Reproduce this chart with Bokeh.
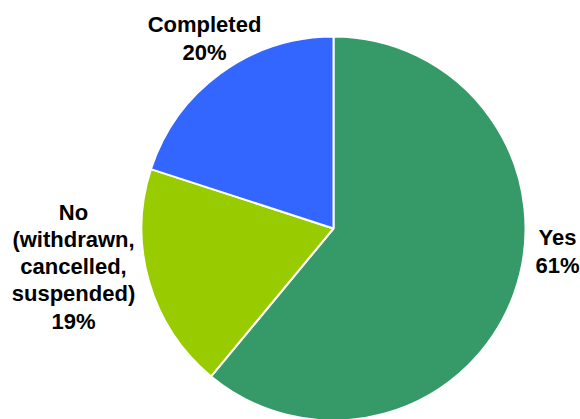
import math
from bokeh.plotting import figure
from bokeh.models import Range1d, ColumnDataSource
from bokeh.core.properties import value
from bokeh.embed import file_html
from bokeh.resources import INLINE

# Data
categories = ["Yes", "No\n(withdrawn,\ncancelled,\nsuspended)", "Completed"]
percent = [61, 19, 20]
colors = ["#359A68", "#99CC00", "#3366FF"]

W, H = 580, 419
cx, cy, r = 333, H - 228, 192

total = sum(percent)
starts, ends = [], []
cum = 0.0
for v in percent:
    a0 = math.pi / 2 - 2 * math.pi * (cum + v) / total
    a1 = math.pi / 2 - 2 * math.pi * cum / total
    starts.append(a0)
    ends.append(a1)
    cum += v

src = ColumnDataSource(dict(start=starts, end=ends, color=colors))

p = figure(width=W, height=H, output_backend="svg", toolbar_location=None,
           x_range=Range1d(0, W), y_range=Range1d(0, H), min_border=0)
p.axis.visible = False
p.grid.visible = False
p.outline_line_color = None
p.background_fill_color = "white"

p.wedge(x=cx, y=cy, radius=r, start_angle="start", end_angle="end",
        fill_color="color", line_color="white", line_width=2, source=src)

# label positions (screen px centers)
lab_pos = [(557, 251), (73, 266), (204, 38)]
texts = [f"{c}\n{v}%" for c, v in zip(categories, percent)]
lsrc = ColumnDataSource(dict(x=[q[0] for q in lab_pos], y=[H - q[1] for q in lab_pos], t=texts))
p.text(x="x", y="y", text="t", source=lsrc, text_align="center", text_baseline="middle",
       text_font=value("Liberation Sans"), text_font_style="bold", text_font_size="22px",
       text_color="black", text_line_height=1.09)

open("out.html", "w").write(file_html(p, INLINE))
